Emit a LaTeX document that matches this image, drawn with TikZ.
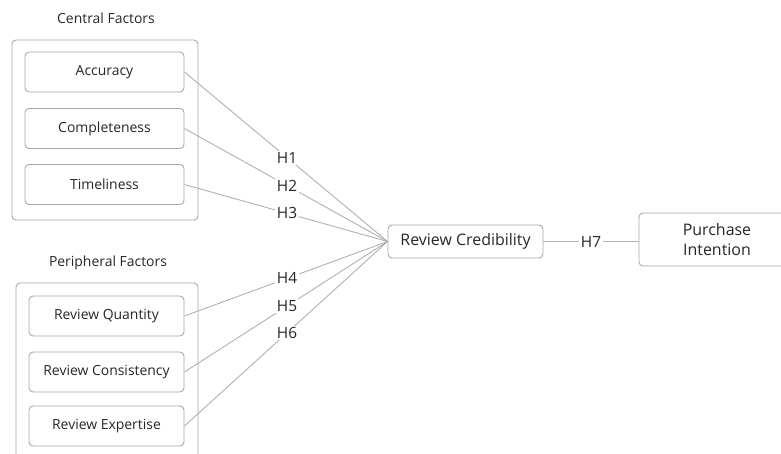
\documentclass[tikz,border=0pt]{standalone}
\usepackage{fontspec}
\setmainfont{Open Sans}
\definecolor{ink}{HTML}{262626}
\definecolor{edge}{HTML}{A8A8A8}
\definecolor{wire}{HTML}{B0B0B0}
\tikzset{
  groupbox/.style={draw=edge, line width=0.9bp, rounded corners=4bp},
  factor/.style={draw=edge, line width=0.9bp, rounded corners=4bp, fill=white,
    text=ink, font=\fontsize{14}{17}\selectfont, minimum width=155bp,
    minimum height=40bp, inner sep=0pt},
  bigbox/.style={draw=edge, line width=0.9bp, rounded corners=4bp, fill=white,
    text=ink, font=\fontsize{16}{21}\selectfont, align=center, inner sep=0pt},
  title/.style={text=ink, font=\fontsize{14}{17}\selectfont, inner sep=0pt},
  link/.style={draw=wire, line width=0.9bp},
  hlabel/.style={fill=white, text=ink, font=\fontsize{15.5}{18}\selectfont,
    inner sep=1.5bp, pos=0.505}
}
\begin{document}
\begin{tikzpicture}[x=1bp, y=-1bp]
\useasboundingbox (0,0) rectangle (781,454);
\clip (0,0) rectangle (781,454);

% group titles
\node[title] (ctitle) at (106,18) {Central Factors};
\node[title] (ptitle) at (108,263) {Peripheral Factors};

% group frames (the lower one runs past the bottom edge)
\draw[groupbox] (12,40) rectangle (198,220);
\draw[groupbox] (16,283) rectangle (198,480);

% central factors
\node[factor, minimum width=159bp] (acc) at (104.5,72) {Accuracy};
\node[factor, minimum width=159bp] (comp) at (104.5,128.5) {Completeness};
\node[factor, minimum width=159bp] (time) at (104.5,184.5) {Timeliness};

% peripheral factors
\node[factor] (qty) at (106.5,316) {Review Quantity};
\node[factor] (cons) at (106.5,372) {Review Consistency};
\node[factor] (expt) at (106.5,426) {Review Expertise};

% outcome constructs
\node[bigbox, minimum width=155bp, minimum height=33bp] (rc) at (465.5,241.5) {Review Credibility};
\node[bigbox, minimum width=156bp, minimum height=53bp] (pi) at (717,239.5) {Purchase\\Intention};

% hypothesised paths
\draw[link] (acc.east) -- node[hlabel] {H1} (rc.west);
\draw[link] (comp.east) -- node[hlabel] {H2} (rc.west);
\draw[link] (time.east) -- node[hlabel] {H3} (rc.west);
\draw[link] (qty.east) -- node[hlabel] {H4} (rc.west);
\draw[link] (cons.east) -- node[hlabel] {H5} (rc.west);
\draw[link] (expt.east) -- node[hlabel] {H6} (rc.west);
\draw[link] (rc.east) -- node[hlabel, pos=0.5] {H7} (pi.west |- rc.east);
\end{tikzpicture}
\end{document}
